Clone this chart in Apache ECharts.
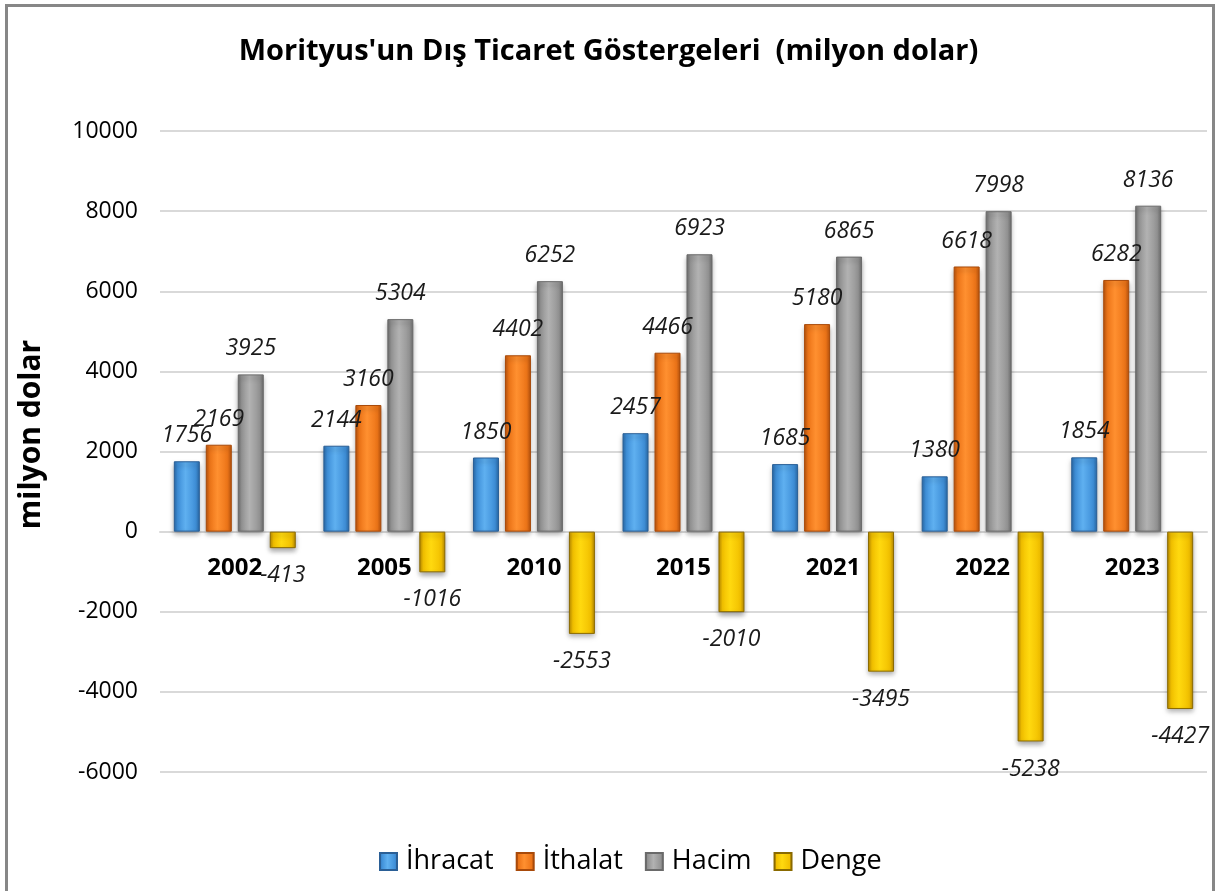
<!DOCTYPE html>
<html>
<head>
<meta charset="utf-8">
<script src="https://cdn.jsdelivr.net/npm/echarts@6/dist/echarts.min.js"></script>
<style>
  html, body { margin: 0; padding: 0; background: #fff; }
  #chart { width: 1217px; height: 891px; }
</style>
</head>
<body>
<div id="chart"></div>
<script>
const years = ["2002", "2005", "2010", "2015", "2021", "2022", "2023"];
const ihracat = [1756, 2144, 1850, 2457, 1685, 1380, 1854];
const ithalat = [2169, 3160, 4402, 4466, 5180, 6618, 6282];
const hacim = [3925, 5304, 6252, 6923, 6865, 7998, 8136];
const denge = [-413, -1016, -2553, -2010, -3495, -5238, -4427];
const yTicks = [-6000, 10000, 2000]; // min, max, step

const FONT = "'Open Sans', 'DejaVu Sans', sans-serif";

// bevel-ish fill: dark edges, bright middle
function bevel(edge, mid, light) {
  return {
    type: "linear", x: 0, y: 0, x2: 1, y2: 0,
    colorStops: [
      { offset: 0, color: edge },
      { offset: 0.15, color: mid },
      { offset: 0.45, color: light },
      { offset: 0.85, color: mid },
      { offset: 1, color: edge }
    ]
  };
}

function barSeries(name, data, fill, border, pos) {
  return {
    name: name,
    type: "bar",
    data: data,
    barWidth: 26,
    barGap: "23%",
    itemStyle: {
      color: fill,
      borderColor: border,
      borderWidth: 1,
      shadowColor: "rgba(0,0,0,0.35)",
      shadowBlur: 5,
      shadowOffsetY: 3
    },
    label: {
      show: true,
      position: pos,
      distance: pos === "top" ? 14 : 16,
      fontFamily: FONT,
      fontStyle: "italic",
      fontSize: 23,
      color: "#1a1a1a"
    }
  };
}

const chart = echarts.init(document.getElementById("chart"));
// zero line sits (0 - min) / (max - min) of the plot height above the bottom
const plotH = 891 - 131 - 119;
const zeroOffset = Math.round(plotH * (0 - yTicks[0]) / (yTicks[1] - yTicks[0]));

chart.setOption({
  animation: false,
  title: {
    text: "Morityus'un Dış Ticaret Göstergeleri  (milyon dolar)",
    left: "center",
    top: 32,
    textStyle: { fontFamily: FONT, fontWeight: "bold", fontSize: 29, color: "#000" }
  },
  graphic: [{
    type: "rect",
    shape: { x: 6.5, y: 5.5, width: 1207, height: 900 },
    style: { fill: "none", stroke: "#878787", lineWidth: 3 },
    silent: true
  }],
  legend: {
    top: 843,
    left: 374,
    icon: "rect",
    itemWidth: 17,
    itemHeight: 17,
    itemGap: 22,
    textStyle: { fontFamily: FONT, fontSize: 27, color: "#000", padding: [0, 0, 0, 4] },
    data: ["İhracat", "İthalat", "Hacim", "Denge"]
  },
  grid: { left: 160, right: 10, top: 131, bottom: 119, containLabel: false },
  xAxis: {
    type: "category",
    data: years,
    offset: -zeroOffset,
    axisTick: { show: false },
    axisLine: { onZero: false, lineStyle: { color: "#d9d9d9", width: 2 } },
    axisLabel: { fontFamily: FONT, fontWeight: "bold", fontSize: 24, color: "#000", margin: 24 }
  },
  yAxis: {
    type: "value",
    min: yTicks[0],
    max: yTicks[1],
    interval: yTicks[2],
    name: "milyon dolar",
    nameLocation: "middle",
    nameGap: 114,
    nameTextStyle: { fontFamily: FONT, fontWeight: "bold", fontSize: 30, color: "#000", padding: [0, 0, 0, 34] },
    axisLine: { show: false },
    axisTick: { show: false },
    axisLabel: { fontFamily: FONT, fontSize: 23, color: "#000", margin: 22, formatter: (v) => String(v) },
    splitLine: { lineStyle: { color: "#d9d9d9", width: 2 } }
  },
  series: [
    barSeries("İhracat", ihracat, bevel("#2a6aa8", "#3f8fd8", "#5fb0f0"), "#2a5f96", "top"),
    barSeries("İthalat", ithalat, bevel("#b9530c", "#ec7418", "#ff9030"), "#a84a0a", "top"),
    barSeries("Hacim", hacim, bevel("#6e6e6e", "#939393", "#b2b2b2"), "#6a6a6a", "top"),
    barSeries("Denge", denge, bevel("#b98a00", "#f2c000", "#ffd90f"), "#8a6a00", "bottom")
  ]
});
</script>
</body>
</html>
